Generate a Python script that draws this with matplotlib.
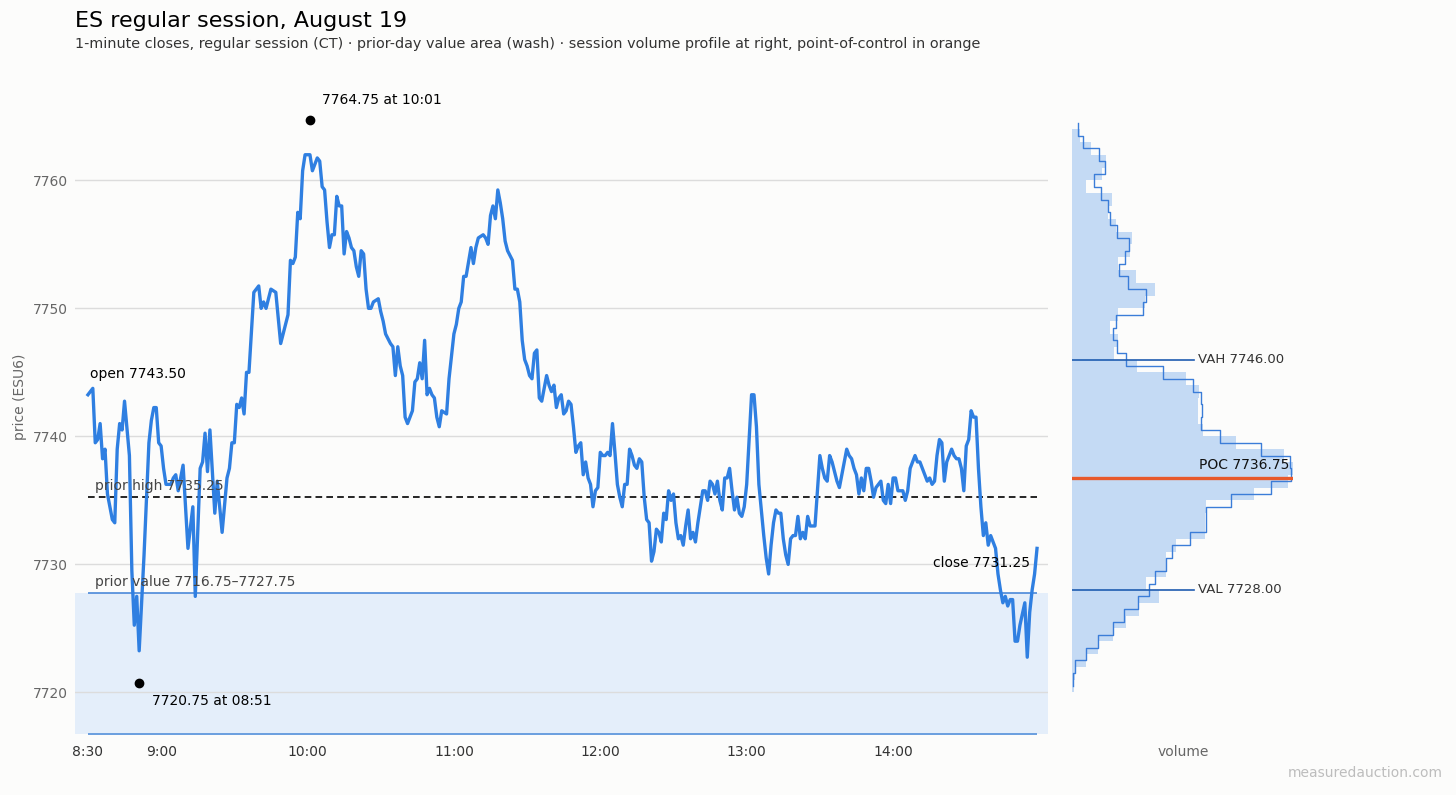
import numpy as np
import matplotlib
matplotlib.use("Agg")
import matplotlib.pyplot as plt

# ES regular session, 1-minute closes (minutes after 8:30 CT)
mins = [0, 2, 3, 4, 5, 6, 7, 8, 9, 10, 11, 12, 13, 14, 15, 17, 18, 19, 20, 21,
        23, 25, 26, 27, 28, 29, 30, 31, 32, 34, 35, 36, 37, 39, 41, 43, 44, 46, 47, 48,
        49, 50, 52, 53, 55, 57, 58, 59, 60, 61, 62, 63, 64, 65, 66, 68, 70, 71, 72, 73,
        75, 77, 79, 82, 83, 84, 85, 86, 87, 88, 89, 90, 91, 92, 94, 95, 96,
        97, 98, 99, 100, 101, 102, 103, 104, 105, 106, 107, 108, 109, 110, 111, 112, 113, 114,
        115, 116, 117, 119, 120, 121, 122, 124, 125, 126, 127, 128, 129, 130, 131, 133, 134, 135,
        136, 137, 138, 139, 140, 141, 142, 143, 144, 145, 147, 148, 150, 151, 152, 153, 154, 155,
        157, 158, 159, 160, 162, 163, 164, 165, 166, 167, 168, 169, 170, 171, 172, 174, 175, 176,
        177, 178, 179, 180, 181, 182, 183, 184, 185, 186, 188, 189, 190, 191, 192, 193,
        194, 195, 196, 197, 198, 199, 200, 201, 202, 203, 204, 205, 206, 207, 208, 209, 210, 211,
        212, 213, 214, 215, 216, 217, 218, 219, 220, 221, 222, 223, 224, 225, 226, 227, 228, 229,
        230, 231, 232, 233, 234, 235, 236, 237, 238, 239, 240, 241, 242, 243, 244, 245, 246, 247,
        248, 249, 250, 251, 252, 253, 254, 255, 256, 257, 258, 259, 260, 261, 262, 263, 264, 265,
        266, 267, 268, 269, 270, 271, 272, 273, 274, 275, 277, 278, 279, 280, 281, 282, 283, 284,
        285, 286, 287, 288, 289, 290, 291, 292, 293, 294, 295, 296, 297, 298, 299, 300, 301, 302,
        303, 304, 305, 306, 307, 308, 309, 310, 311, 312, 313, 314, 315, 316, 317, 318, 319, 320,
        321, 322, 323, 325, 326, 327, 328, 329, 330, 331, 332, 333, 334, 335, 336, 337, 339, 340,
        341, 342, 343, 344, 345, 346, 347, 348, 349, 350, 351, 352, 353, 354, 355, 356, 357, 358,
        359, 360, 361, 362, 363, 364, 365, 366, 367, 368, 369, 370, 371, 372, 373, 374, 375, 376,
        377, 378, 379, 380, 381, 382, 384, 385, 386, 387, 388, 389]
closes = [7743.25, 7743.75, 7739.5, 7739.75, 7741.0, 7738.25, 7739.0, 7735.5, 7734.5, 7733.5,
          7733.25, 7739.0, 7741.0, 7740.5, 7742.75, 7738.5, 7729.5, 7725.25, 7727.5, 7723.25,
          7730.75, 7739.5, 7741.25, 7742.25, 7742.25, 7739.5, 7739.25, 7737.5, 7736.25, 7736.25,
          7736.75, 7737.0, 7735.75, 7737.75, 7731.25, 7734.5, 7727.5, 7737.5, 7738.0, 7740.25,
          7737.25, 7740.5, 7734.0, 7736.5, 7732.5, 7736.75, 7737.5, 7739.5, 7739.5, 7742.5,
          7742.25, 7743.0, 7741.75, 7745.0, 7745.0, 7751.25, 7751.75, 7750.0, 7750.5, 7750.0,
          7751.5, 7751.25, 7747.25, 7749.5, 7753.75, 7753.5, 7754.0, 7757.5, 7757.0, 7760.75,
          7762.0, 7762.0, 7762.0, 7760.75, 7761.75, 7761.5, 7759.5,
          7759.25, 7756.75, 7754.75, 7755.75, 7755.75, 7758.75, 7758.0, 7758.0, 7754.25, 7756.0,
          7755.5, 7754.75, 7754.5, 7753.25, 7752.5, 7754.5, 7754.25, 7751.5,
          7750.0, 7750.0, 7750.5, 7750.75, 7749.75, 7749.0, 7748.0, 7747.25, 7747.0, 7744.75,
          7747.0, 7745.5, 7744.75, 7741.5, 7741.0, 7742.0, 7744.25, 7744.5,
          7745.75, 7744.5, 7747.5, 7743.25, 7743.75, 7743.25, 7743.0, 7741.5, 7740.75, 7742.0,
          7741.75, 7744.5, 7748.0, 7748.75, 7750.0, 7750.5, 7752.5, 7752.5,
          7754.75, 7753.5, 7754.75, 7755.5, 7755.75, 7755.5, 7755.0, 7757.25, 7758.0, 7757.0,
          7759.25, 7758.25, 7757.0, 7755.25, 7754.5, 7753.75, 7751.5, 7751.5,
          7750.5, 7747.5, 7746.0, 7745.5, 7744.75, 7744.5, 7746.5, 7746.75, 7743.0, 7742.75,
          7744.75, 7744.0, 7743.5, 7744.0, 7742.25, 7743.0,
          7743.25, 7741.75, 7742.0, 7742.75, 7742.5, 7740.75, 7738.75, 7739.25, 7739.5, 7737.0,
          7738.0, 7736.75, 7736.25, 7734.5, 7735.75, 7736.0, 7738.75, 7738.5,
          7738.5, 7738.75, 7738.5, 7741.0, 7738.75, 7736.25, 7735.25, 7734.5, 7736.25, 7736.25,
          7739.0, 7738.5, 7737.75, 7737.5, 7738.25, 7738.0, 7735.25, 7733.5,
          7733.25, 7730.25, 7731.0, 7732.75, 7732.5, 7731.75, 7734.0, 7733.5, 7735.75, 7735.0,
          7735.5, 7733.25, 7732.0, 7732.25, 7731.5, 7733.0, 7734.25, 7732.0,
          7732.5, 7731.75, 7733.25, 7734.5, 7735.75, 7735.75, 7735.0, 7736.5, 7736.25, 7735.5,
          7736.5, 7735.0, 7734.25, 7736.75, 7736.75, 7737.5, 7735.75, 7734.25,
          7735.25, 7734.0, 7733.75, 7734.5, 7736.25, 7739.75, 7743.25, 7743.25, 7740.75, 7736.25,
          7732.25, 7730.5, 7729.25, 7731.5, 7733.25, 7734.25, 7734.0, 7734.0,
          7732.0, 7730.75, 7730.0, 7732.0, 7732.25, 7732.25, 7733.75, 7732.0, 7732.5, 7732.0,
          7733.75, 7733.0, 7733.0, 7733.0, 7735.75, 7738.5, 7737.5, 7736.75,
          7736.5, 7738.5, 7738.0, 7737.25, 7736.5, 7736.0, 7737.0, 7738.0, 7739.0, 7738.5,
          7738.25, 7737.5, 7737.0, 7735.5, 7736.75, 7735.75, 7737.5, 7737.5,
          7736.5, 7735.25, 7736.0, 7736.5, 7735.0, 7734.75, 7736.25, 7734.75, 7736.75, 7736.75,
          7735.75, 7735.75, 7735.75, 7735.0, 7735.75, 7737.5, 7738.5, 7738.0,
          7738.0, 7737.5, 7737.0, 7736.5, 7736.75, 7736.25, 7736.5, 7738.5, 7739.75, 7739.5,
          7736.5, 7738.0, 7738.5, 7739.0, 7738.5, 7738.25, 7738.25, 7737.5,
          7735.75, 7739.25, 7739.75, 7742.0, 7741.5, 7741.5, 7737.5, 7734.5, 7732.25, 7733.25,
          7731.5, 7732.25, 7731.75, 7731.25, 7729.25, 7728.0, 7727.0, 7727.5,
          7726.75, 7727.25, 7727.25, 7724.0, 7724.0, 7725.25, 7727.0, 7722.75, 7726.25, 7728.0,
          7729.25, 7731.25]

open_px = 7743.50
close_px = 7731.25
hi_min, hi_px = 91, 7764.75
lo_min, lo_px = 21, 7720.75
prior_high = 7735.25
prior_val = (7716.75, 7727.75)

# session volume profile (hundreds of contracts)
fill_lo = list(range(7720, 7764))        # 1-pt bins, lower edges
vol_fill = [2, 3, 14, 26, 41, 54, 67, 87, 74, 94, 94, 104, 133, 133, 134, 182, 216, 221,
            212, 164, 131, 126, 126, 127, 114, 65, 42, 46, 38, 46, 73, 83, 64, 46, 58, 60,
            44, 36, 40, 14, 30, 34, 19, 8]
line_mid = list(range(7721, 7765))       # 1-pt bins, centres
vol_line = [1.3, 3.3, 14, 26, 41, 52, 66, 77, 83, 94, 100, 118, 134, 134, 159, 199, 219,
            218, 189, 148, 129, 130, 129, 121, 91, 54, 45, 41, 44, 71, 74, 56, 47, 53, 57,
            45, 38, 36, 29, 22, 33, 27, 11, 6]
poc = 7736.75
vah = 7746.00
val = 7728.00

xticks = [0, 30, 90, 150, 210, 270, 330]
xtick_labels = ["8:30", "9:00", "10:00", "11:00", "12:00", "13:00", "14:00"]
yticks = [7720, 7730, 7740, 7750, 7760]

bg = "#fcfcfb"
blue = "#2f7fe1"

fig = plt.figure(figsize=(14.56, 7.95), dpi=100, facecolor=bg)
ax = fig.add_axes([75 / 1456, 61 / 795, 973 / 1456, 674 / 795], facecolor=bg)
ax2 = fig.add_axes([1072 / 1456, 61 / 795, 221 / 1456, 674 / 795], facecolor=bg, sharey=ax)

# main price panel
ax.axhspan(prior_val[0], prior_val[1], color="#e4eefa", lw=0, zorder=0)
ax.hlines(prior_val[1], mins[0], mins[-1], color="#3c7fd6", lw=1.1, zorder=1)
ax.hlines(prior_val[0], mins[0], mins[-1], color="#6a9edf", lw=1.4, zorder=1, clip_on=False)
ax.hlines(prior_high, mins[0], mins[-1], color="black", lw=1.2, linestyles=(0, (4, 2.5)), zorder=2)
ax.plot(mins, closes, color=blue, lw=2.4, zorder=3)
ax.plot([hi_min, lo_min], [hi_px, lo_px], "o", color="black", ms=6, zorder=4)

ax.text(1, 7744.9, f"open {open_px:.2f}", fontsize=10, va="center")
ax.text(386, 7730.1, f"close {close_px:.2f}", fontsize=10, va="center", ha="right")
ax.text(hi_min + 5, hi_px + 1.5, f"{hi_px:.2f} at 10:01", fontsize=10, va="center")
ax.text(lo_min + 5.2, lo_px - 1.45, f"{lo_px:.2f} at 08:51", fontsize=10, va="center")
ax.text(2.9, prior_high + 0.85, f"prior high {prior_high:.2f}", fontsize=10, color="#444", va="center")
ax.text(2.9, prior_val[1] + 0.9, f"prior value {prior_val[0]:.2f}\u2013{prior_val[1]:.2f}",
        fontsize=10, color="#444", va="center")

ax.set_xlim(-5.3, 393.5)
ax.set_ylim(7716.75, 7769.4)
ax.set_xticks(xticks)
ax.set_xticklabels(xtick_labels)
ax.set_yticks(yticks)
ax.tick_params(axis="x", length=0, pad=8, labelsize=10, labelcolor="#333")
ax.tick_params(axis="y", length=0, pad=5, labelsize=10, labelcolor="#666")
ax.grid(axis="y", color="#dcdcdc", lw=1)
ax.set_axisbelow(True)
ax.set_ylabel("price (ESU6)", fontsize=10, color="#666", labelpad=4)
for s in ax.spines.values():
    s.set_visible(False)

# volume profile panel
ax2.barh(fill_lo, vol_fill, height=1, align="edge", color="#c4daf4", lw=0, zorder=1)
lm = np.array(line_mid, dtype=float)
ys = np.column_stack([lm - 0.5, lm + 0.5]).ravel()
xs = np.repeat(vol_line, 2)
ax2.plot(xs, ys, color="#3b7dd8", lw=1.0, zorder=2)
ax2.axhline(poc, color="#e8592b", lw=2.4, zorder=3)
ax2.axhline(vah, xmax=0.55, color="#1f5cb0", lw=1.2, zorder=3)
ax2.axhline(val, xmax=0.55, color="#1f5cb0", lw=1.2, zorder=3)
ax2.text(0.57, vah, f"VAH {vah:.2f}", transform=ax2.get_yaxis_transform(),
         fontsize=9.5, color="#333", va="center")
ax2.text(0.57, val, f"VAL {val:.2f}", transform=ax2.get_yaxis_transform(),
         fontsize=9.5, color="#333", va="center")
ax2.text(0.575, poc + 1.0, f"POC {poc:.2f}", transform=ax2.get_yaxis_transform(),
         fontsize=10, color="#111", va="center")
ax2.set_xlim(0, 221)
ax2.tick_params(left=False, bottom=False, labelleft=False, labelbottom=False)
for s in ax2.spines.values():
    s.set_visible(False)

fig.text(1183 / 1456, 1 - 752 / 795, "volume", fontsize=10, color="#666", ha="center", va="center")
fig.text(75 / 1456, 1 - 21 / 795, "ES regular session, August 19", fontsize=16, va="center")
fig.text(75 / 1456, 1 - 44 / 795,
         "1-minute closes, regular session (CT) \u00b7 prior-day value area (wash) \u00b7 "
         "session volume profile at right, point-of-control in orange",
         fontsize=10.4, color="#333", va="center")
fig.text(1443 / 1456, 1 - 773 / 795, "measuredauction.com", fontsize=10, color="#bdbdbd",
         ha="right", va="center")

fig.savefig("out.png", dpi=100, facecolor=bg)
